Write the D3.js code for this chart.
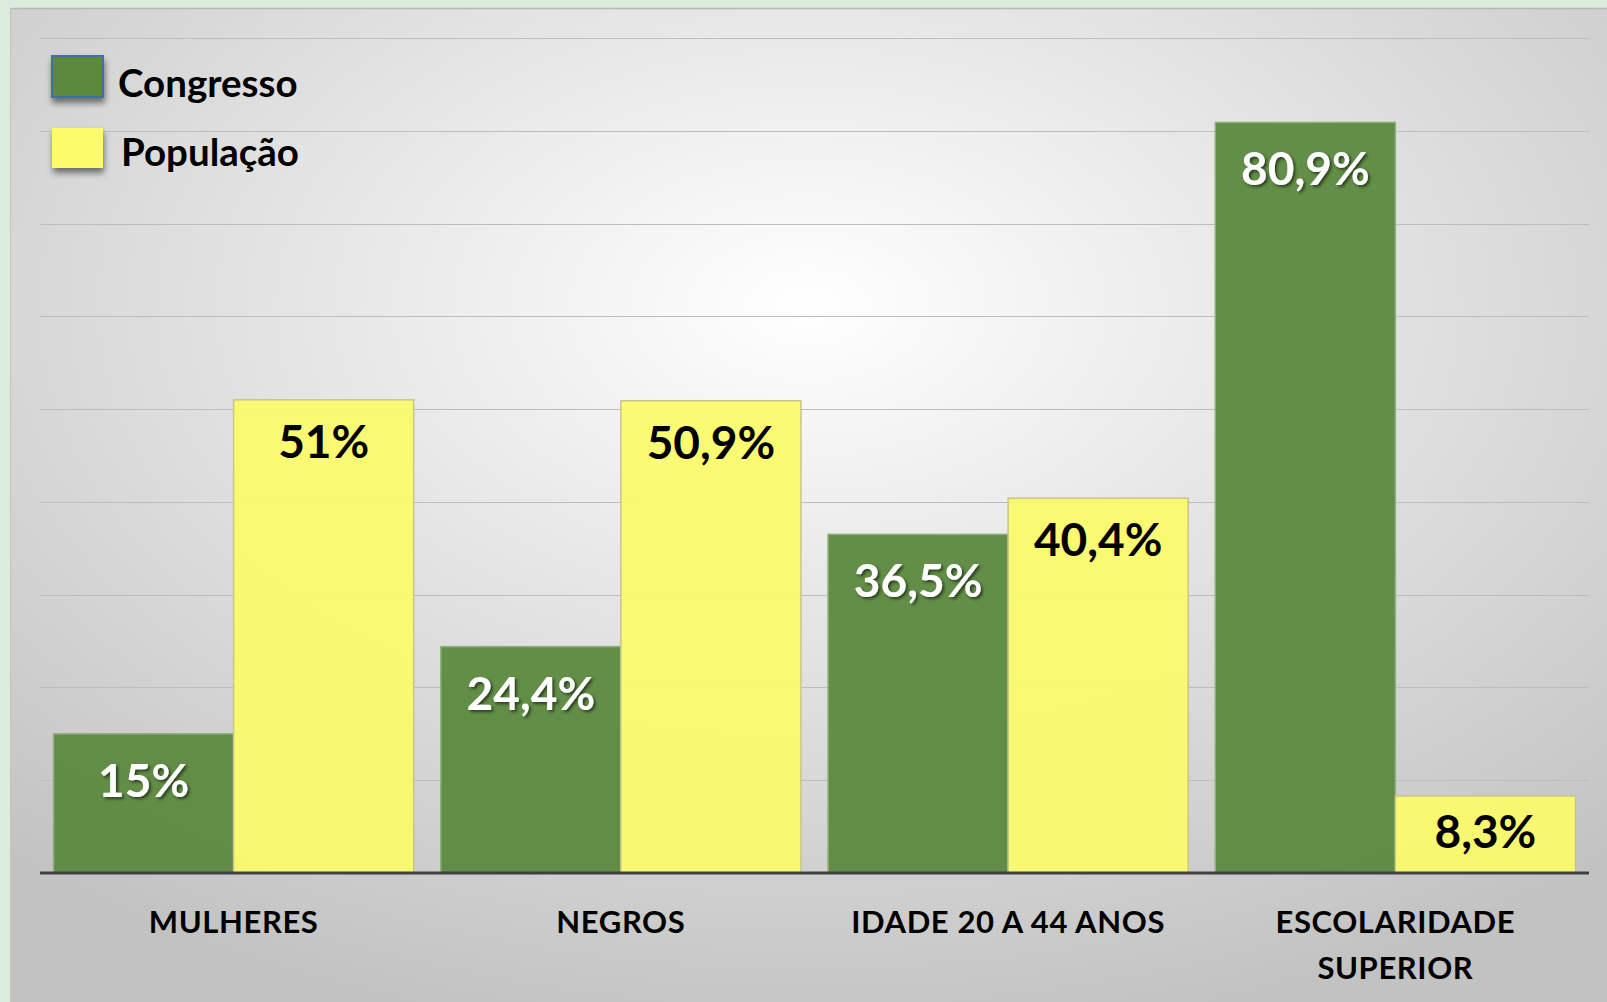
<!DOCTYPE html>
<html>
<head>
<meta charset="utf-8">
<script src="https://cdn.jsdelivr.net/npm/d3@7"></script>
<style>
  body { margin: 0; background: #ddeddd; }
  svg { display: block; font-family: Lato, "Open Sans", sans-serif; }
</style>
</head>
<body>
<svg></svg>
<script>
var categories = [["MULHERES"], ["NEGROS"], ["IDADE 20 A 44 ANOS"], ["ESCOLARIDADE", "SUPERIOR"]];
var seriesNames = ["Congresso", "População"];
var congresso = [15, 24.4, 36.5, 80.9];
var populacao = [51, 50.9, 40.4, 8.3];
var valueLabels = [["15%", "24,4%", "36,5%", "80,9%"], ["51%", "50,9%", "40,4%", "8,3%"]];
var gridTicks = [0, 10, 20, 30, 40, 50, 60, 70, 80, 90];

var width = 1607, height = 1002;
var colors = ["#5b893e", "#fbfb6c"];
var strokes = ["#8fb07a", "#c6c68c"];

var svg = d3.select("svg")
    .attr("width", width)
    .attr("height", height);

var defs = svg.append("defs");
var grad = defs.append("radialGradient")
    .attr("id", "bg")
    .attr("cx", "0.5").attr("cy", "0.3").attr("r", "0.75");
grad.append("stop").attr("offset", "0").attr("stop-color", "#ffffff");
grad.append("stop").attr("offset", "1").attr("stop-color", "#c2c2c2");

var shadow = defs.append("filter").attr("id", "shadow")
    .attr("x", "-20%").attr("y", "-20%").attr("width", "150%").attr("height", "150%");
shadow.append("feDropShadow")
    .attr("dx", 2).attr("dy", 2).attr("stdDeviation", 1.5)
    .attr("flood-color", "#000").attr("flood-opacity", 0.55);

var boxShadow = defs.append("filter").attr("id", "boxshadow")
    .attr("x", "-20%").attr("y", "-20%").attr("width", "150%").attr("height", "160%");
boxShadow.append("feDropShadow")
    .attr("dx", 1).attr("dy", 5).attr("stdDeviation", 3)
    .attr("flood-color", "#000").attr("flood-opacity", 0.5);

// panel
svg.append("rect")
    .attr("x", 10).attr("y", 8)
    .attr("width", width - 10).attr("height", height - 8)
    .attr("fill", "url(#bg)");
svg.append("line")
    .attr("x1", 10).attr("x2", width).attr("y1", 8.5).attr("y2", 8.5)
    .style("stroke", "#b8b8b8").style("stroke-width", 1.5);
svg.append("line")
    .attr("x1", 10.5).attr("x2", 10.5).attr("y1", 8).attr("y2", height)
    .style("stroke", "#c4c4c4").style("stroke-width", 1);

var x0 = d3.scaleBand()
    .domain(d3.range(categories.length))
    .range([40, 1589])
    .paddingInner(0.07)
    .paddingOuter(0.035);
var x1 = d3.scaleBand()
    .domain([0, 1])
    .range([0, x0.bandwidth()]);
var y = d3.scaleLinear()
    .domain([0, 90])
    .range([873, 38]);

// gridlines
svg.append("g")
    .selectAll("line")
    .data(gridTicks.slice(1))
    .enter().append("line")
    .attr("x1", 40).attr("x2", 1589)
    .attr("y1", function(d) { return Math.round(y(d)) + 0.5; })
    .attr("y2", function(d) { return Math.round(y(d)) + 0.5; })
    .style("stroke", "#bdbdbd")
    .style("stroke-width", 1);

var series = [congresso, populacao];

series.forEach(function(values, s) {
    var g = svg.append("g");
    g.selectAll("rect")
        .data(values)
        .enter().append("rect")
        .attr("x", function(d, i) { return x0(i) + x1(s); })
        .attr("y", function(d) { return y(d); })
        .attr("width", x1.bandwidth())
        .attr("height", function(d) { return y(0) - y(d); })
        .attr("fill", colors[s])
        .attr("fill-opacity", 0.95)
        .style("stroke", strokes[s])
        .style("stroke-width", 1.5);

    g.selectAll("text")
        .data(values)
        .enter().append("text")
        .attr("x", function(d, i) { return x0(i) + x1(s) + x1.bandwidth() / 2; })
        .attr("y", function(d) {
            return Math.min(y(d) + (s === 0 ? 63 : 58), y(0) - 25);
        })
        .attr("text-anchor", "middle")
        .style("font-size", "46px")
        .style("font-weight", "bold")
        .style("fill", s === 0 ? "#ffffff" : "#000000")
        .attr("filter", s === 0 ? "url(#shadow)" : null)
        .text(function(d, i) { return valueLabels[s][i]; });
});

// baseline
svg.append("line")
    .attr("x1", 40).attr("x2", 1589)
    .attr("y1", y(0)).attr("y2", y(0))
    .style("stroke", "#404040")
    .style("stroke-width", 3);

// category labels
var cat = svg.append("g")
    .selectAll("text")
    .data(categories)
    .enter().append("text")
    .attr("text-anchor", "middle")
    .attr("y", 933)
    .style("font-size", "31px")
    .style("letter-spacing", "0.6px")
    .style("font-weight", "bold")
    .style("fill", "#000");
cat.selectAll("tspan")
    .data(function(d, i) { return d.map(function(t) { return { t: t, i: i }; }); })
    .enter().append("tspan")
    .attr("x", function(d) { return x0(d.i) + x0.bandwidth() / 2; })
    .attr("dy", function(d, j) { return j === 0 ? 0 : 46; })
    .text(function(d) { return d.t; });

// legend
var legend = svg.append("g")
    .selectAll("g")
    .data(seriesNames)
    .enter().append("g")
    .attr("transform", function(d, i) { return "translate(52," + (56 + i * 72) + ")"; });
legend.append("rect")
    .attr("width", 51)
    .attr("height", function(d, i) { return i === 0 ? 41 : 40; })
    .attr("fill", function(d, i) { return colors[i]; })
    .style("stroke", function(d, i) { return i === 0 ? "#41719c" : "none"; })
    .style("stroke-width", 2)
    .attr("filter", "url(#boxshadow)");
legend.append("text")
    .attr("x", function(d, i) { return i === 0 ? 66 : 69; })
    .attr("y", function(d, i) { return i === 0 ? 41 : 38; })
    .style("font-size", "38.5px")
    .style("font-weight", "bold")
    .style("fill", "#000")
    .text(function(d) { return d; });
</script>
</body>
</html>
